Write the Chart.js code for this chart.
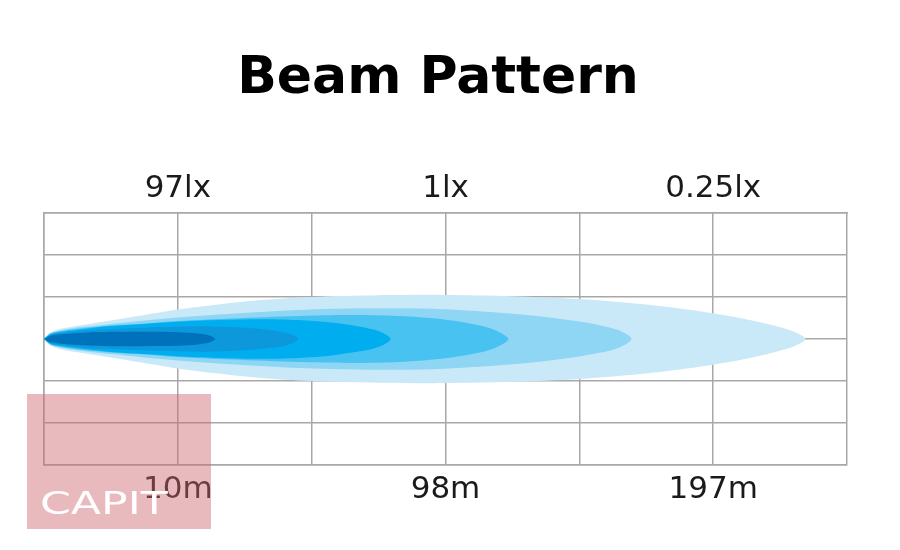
<!DOCTYPE html>
<html>
<head>
<meta charset="utf-8">
<title>Beam Pattern</title>
<script src="https://cdn.jsdelivr.net/npm/chart.js@4.4.1/dist/chart.umd.min.js"></script>
<style>
  body { margin: 0; background: #fff; }
</style>
</head>
<body>
<canvas id="beam-chart" width="900" height="550"></canvas>
<script>
// grid lines that carry a label
var labelTicks = [1, 3, 5];
var luxLabels = ["97lx", "1lx", "0.25lx"];
var distLabels = ["10m", "98m", "197m"];

// beam zones, outer to inner: distance along the beam and half width, in grid units
var zone1X = [0, 0.05, 0.15, 0.3, 0.5, 0.75, 1.0, 1.3, 1.6, 2.0, 2.5, 3.0, 3.5, 4.0, 4.5, 4.9, 5.2, 5.45, 5.6, 5.69];
var zone1H = [0, 0.16, 0.26, 0.34, 0.44, 0.57, 0.70, 0.82, 0.92, 1.00, 1.04, 1.05, 1.02, 0.95, 0.82, 0.66, 0.50, 0.32, 0.18, 0];
var zone2X = [0, 0.05, 0.15, 0.3, 0.5, 0.75, 1.0, 1.4, 1.9, 2.4, 2.9, 3.3, 3.65, 3.95, 4.15, 4.3, 4.39];
var zone2H = [0, 0.14, 0.22, 0.29, 0.36, 0.44, 0.51, 0.60, 0.69, 0.73, 0.72, 0.65, 0.56, 0.44, 0.33, 0.20, 0];
var zone3X = [0, 0.05, 0.15, 0.3, 0.5, 0.75, 1.0, 1.4, 1.9, 2.3, 2.7, 3.0, 3.2, 3.35, 3.47];
var zone3H = [0, 0.13, 0.20, 0.26, 0.32, 0.37, 0.43, 0.49, 0.55, 0.57, 0.54, 0.46, 0.36, 0.24, 0];
var zone4X = [0, 0.05, 0.15, 0.3, 0.5, 0.75, 1.0, 1.3, 1.6, 1.9, 2.15, 2.35, 2.5, 2.59];
var zone4H = [0, 0.12, 0.18, 0.24, 0.31, 0.36, 0.41, 0.45, 0.47, 0.45, 0.39, 0.30, 0.19, 0];
var zone5X = [0, 0.05, 0.15, 0.3, 0.5, 0.75, 1.0, 1.25, 1.5, 1.7, 1.82, 1.90];
var zone5H = [0, 0.10, 0.15, 0.20, 0.24, 0.27, 0.29, 0.30, 0.27, 0.21, 0.14, 0];
var zone6X = [0, 0.05, 0.15, 0.3, 0.5, 0.75, 1.0, 1.15, 1.24, 1.28];
var zone6H = [0, 0.08, 0.12, 0.15, 0.17, 0.17, 0.16, 0.13, 0.08, 0];

var zoneColors = ["#c9e9f9", "#8fd6f5", "#48c3f1", "#00adee", "#0d98dc", "#0071bb"];
var zones = [[zone1X, zone1H], [zone2X, zone2H], [zone3X, zone3H],
             [zone4X, zone4H], [zone5X, zone5H], [zone6X, zone6H]];

// top edge out to the tip, then back along the bottom edge
function outline(xs, hs) {
  var pts = [];
  for (var i = 0; i < xs.length; i++) pts.push({x: xs[i], y: hs[i]});
  for (var j = xs.length - 2; j >= 0; j--) pts.push({x: xs[j], y: -hs[j]});
  return pts;
}

var datasets = zones.map(function(z, i) {
  return {
    data: outline(z[0], z[1]),
    showLine: true,
    fill: 'shape',
    backgroundColor: zoneColors[i],
    borderWidth: 0,
    pointRadius: 0,
    tension: 0.3,
    order: zones.length - i
  };
});

function pickLabel(list) {
  return function(value) {
    var k = labelTicks.indexOf(value);
    return k >= 0 ? list[k] : '';
  };
}

var gridColor = '#a8a8a8';
var labelFont = {family: '"DejaVu Sans"', size: 31};

var watermark = {
  id: 'watermark',
  afterDraw: function(chart) {
    var ctx = chart.ctx;
    ctx.save();
    ctx.fillStyle = 'rgba(206,102,108,0.45)';
    ctx.fillRect(27, 394, 184, 135);
    ctx.fillStyle = '#ffffff';
    ctx.font = '34px "DejaVu Sans"';
    ctx.translate(40, 514);
    ctx.scale(1.3, 0.95);
    ctx.fillText('CAPIT', 0, 0);
    ctx.restore();
  }
};

window.onload = function() {
  var ctx = document.getElementById("beam-chart").getContext("2d");
  new Chart(ctx, {
    type: 'scatter',
    data: {datasets: datasets},
    plugins: [watermark],
    options: {
      responsive: false,
      animation: false,
      layout: {padding: {left: 29, right: 53, top: 0, bottom: 0}},
      plugins: {
        legend: {display: false},
        tooltip: {enabled: false},
        title: {
          display: true,
          text: 'Beam Pattern',
          color: '#000',
          font: {family: '"DejaVu Sans"', size: 52, weight: 'bold'},
          padding: {top: 48, bottom: 0}
        }
      },
      scales: {
        x: {
          type: 'linear', position: 'bottom', min: 0, max: 6,
          afterFit: function(s) { s.height = 85; },
          grid: {color: gridColor, lineWidth: 1.5, drawTicks: false},
          border: {color: gridColor, width: 1.5},
          ticks: {stepSize: 1, autoSkip: false, maxRotation: 0, padding: 6,
                  color: '#1a1a1a', font: labelFont, callback: pickLabel(distLabels)}
        },
        x2: {
          type: 'linear', position: 'top', min: 0, max: 6,
          afterFit: function(s) { s.height = 102.6; },
          grid: {display: false, drawTicks: false},
          border: {color: gridColor, width: 1.5},
          ticks: {stepSize: 1, autoSkip: false, maxRotation: 0, padding: 5,
                  color: '#1a1a1a', font: labelFont, callback: pickLabel(luxLabels)}
        },
        y: {
          type: 'linear', min: -3, max: 3,
          afterFit: function(s) { s.width = 15; },
          grid: {color: gridColor, lineWidth: 1.5, drawTicks: false},
          border: {color: gridColor, width: 1.5},
          ticks: {stepSize: 1, display: false}
        }
      }
    }
  });
};
</script>
</body>
</html>
